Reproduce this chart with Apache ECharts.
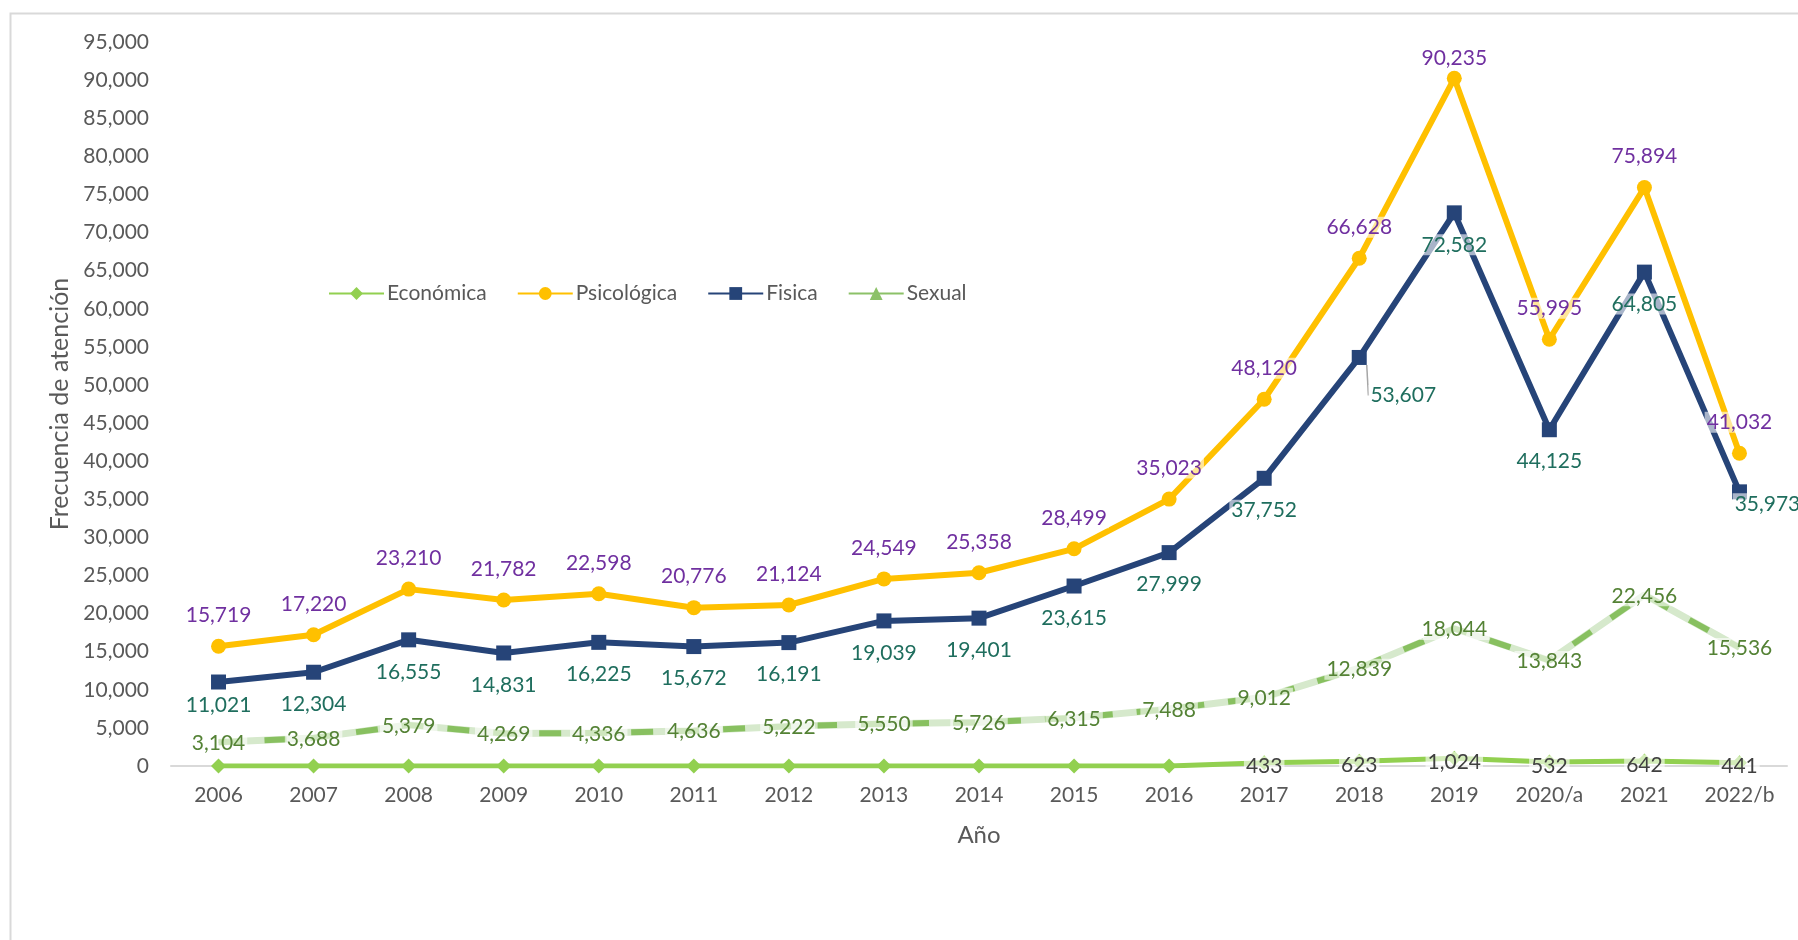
<!DOCTYPE html>
<html>
<head>
<meta charset="utf-8">
<script src="https://cdn.jsdelivr.net/npm/echarts@6/dist/echarts.min.js"></script>
<style>
html,body{margin:0;padding:0;background:#ffffff;}
#chart{width:1798px;height:940px;}
</style>
</head>
<body>
<div id="chart"></div>
<script>
// ---- data ----
const categories = ['2006','2007','2008','2009','2010','2011','2012','2013','2014','2015','2016','2017','2018','2019','2020/a','2021','2022/b'];
const economica   = [0,0,0,0,0,0,0,0,0,0,0,433,623,1024,532,642,441];
const psicologica = [15719,17220,23210,21782,22598,20776,21124,24549,25358,28499,35023,48120,66628,90235,55995,75894,41032];
const fisica      = [11021,12304,16555,14831,16225,15672,16191,19039,19401,23615,27999,37752,53607,72582,44125,64805,35973];
const sexual      = [3104,3688,5379,4269,4336,4636,5222,5550,5726,6315,7488,9012,12839,18044,13843,22456,15536];
const seriesNames = ['Económica','Psicológica','Fisica','Sexual'];
const yMin = 0, yMax = 95000, yStep = 5000;

// ---- styles ----
const FONT = 'Lato';
const fmt = v => Number(v).toLocaleString('en-US');
const labelBg = 'rgba(255,255,255,0.6)';

const chart = echarts.init(document.getElementById('chart'), null, {renderer: 'canvas'});

const psicData = psicologica.map((v, i) => {
  if (i === 13) return {value: v, label: {distance: 2}};
  return v;
});
const fisicaData = fisica.map((v, i) => {
  if (i === 0) return {value: v, label: {distance: 5}};
  if (i === 12) return {value: v, labelLine: {show: true, lineStyle: {color: '#a6a6a6', width: 1.5}}};
  return v;
});

const option = {
  backgroundColor: '#ffffff',
  animation: false,
  textStyle: {fontFamily: FONT},
  graphic: [{
    type: 'rect',
    left: 8, top: 11,
    shape: {width: 1900, height: 1000},
    style: {fill: 'none', stroke: '#d9d9d9', lineWidth: 2},
    silent: true, z: -10
  }],
  grid: {left: 171, right: 11, top: 42, bottom: 174, containLabel: false},
  legend: {
    left: 323, top: 278,
    itemWidth: 55, itemHeight: 16, itemGap: 30,
    textStyle: {fontFamily: FONT, fontSize: 21, color: '#595959', padding: [0, 0, 0, -2]},
    data: [
      {name: 'Económica'},
      {name: 'Psicológica'},
      {name: 'Fisica'},
      {name: 'Sexual', lineStyle: {type: 'solid', color: '#8cc168'}}
    ]
  },
  xAxis: {
    type: 'category',
    data: categories,
    boundaryGap: true,
    name: 'Año',
    nameLocation: 'middle',
    nameGap: 57,
    nameTextStyle: {fontFamily: FONT, fontSize: 24, color: '#595959'},
    axisLine: {show: true, lineStyle: {color: '#d9d9d9', width: 2}},
    axisTick: {show: false},
    axisLabel: {fontFamily: FONT, fontSize: 21, color: '#595959', margin: 19},
    splitLine: {show: false}
  },
  yAxis: {
    type: 'value',
    min: yMin, max: yMax, interval: yStep,
    name: 'Frecuencia de atención',
    nameLocation: 'middle',
    nameGap: 99,
    nameTextStyle: {fontFamily: FONT, fontSize: 25, color: '#595959'},
    axisLine: {show: false},
    axisTick: {show: false},
    splitLine: {show: false},
    axisLabel: {fontFamily: FONT, fontSize: 21, color: '#595959', margin: 22, formatter: fmt}
  },
  series: [
    {
      name: 'Económica',
      type: 'line',
      data: economica,
      z: 3,
      symbol: 'diamond',
      symbolSize: 15,
      color: '#92d050',
      lineStyle: {width: 5, color: '#92d050'},
      itemStyle: {color: '#92d050'},
      label: {
        show: true, position: 'inside', offset: [0, 4],
        fontFamily: FONT, fontSize: 21, color: '#404040',
        backgroundColor: labelBg, padding: [0, 2],
        formatter: p => (p.value > 0 ? fmt(p.value) : '')
      }
    },
    {
      name: 'Psicológica',
      type: 'line',
      data: psicData,
      z: 3,
      symbol: 'circle',
      symbolSize: 15,
      color: '#ffc000',
      lineStyle: {width: 6, color: '#ffc000'},
      itemStyle: {color: '#ffc000'},
      label: {
        show: true, position: 'top', distance: 13,
        fontFamily: FONT, fontSize: 21, color: '#7030a0',
        backgroundColor: labelBg, padding: [0, 2],
        formatter: p => fmt(p.value)
      }
    },
    {
      name: 'Fisica',
      type: 'line',
      data: fisicaData,
      z: 3,
      symbol: 'rect',
      symbolSize: 15,
      color: '#264478',
      lineStyle: {width: 6, color: '#264478'},
      itemStyle: {color: '#264478'},
      label: {
        show: true, position: 'bottom', distance: 14,
        fontFamily: FONT, fontSize: 21, color: '#1f6e5e',
        backgroundColor: labelBg, padding: [0, 2],
        formatter: p => fmt(p.value)
      },
      labelLayout: function (p) {
        if (p.dataIndex === 12) return {dx: 44, dy: 6};
        if (p.dataIndex === 16) return {dx: 28, dy: -20};
        return {};
      },
      labelLine: {show: false}
    },
    {
      name: 'SexualBase',
      type: 'line',
      data: sexual,
      z: 2,
      silent: true,
      symbol: 'none',
      lineStyle: {width: 7, color: '#d6e9cc'},
      label: {show: false},
      tooltip: {show: false}
    },
    {
      name: 'Sexual',
      type: 'line',
      data: sexual,
      z: 3,
      symbol: 'triangle',
      symbolSize: 1,
      color: '#8cc168',
      lineStyle: {width: 6, color: '#88c060', type: [22, 24]},
      itemStyle: {color: '#8cc168'},
      label: {
        show: true, position: 'inside', offset: [0, 1],
        fontFamily: FONT, fontSize: 21, color: '#548235',
        backgroundColor: labelBg, padding: [0, 2],
        formatter: p => fmt(p.value)
      }
    }
  ]
};
chart.setOption(option);
</script>
</body>
</html>
